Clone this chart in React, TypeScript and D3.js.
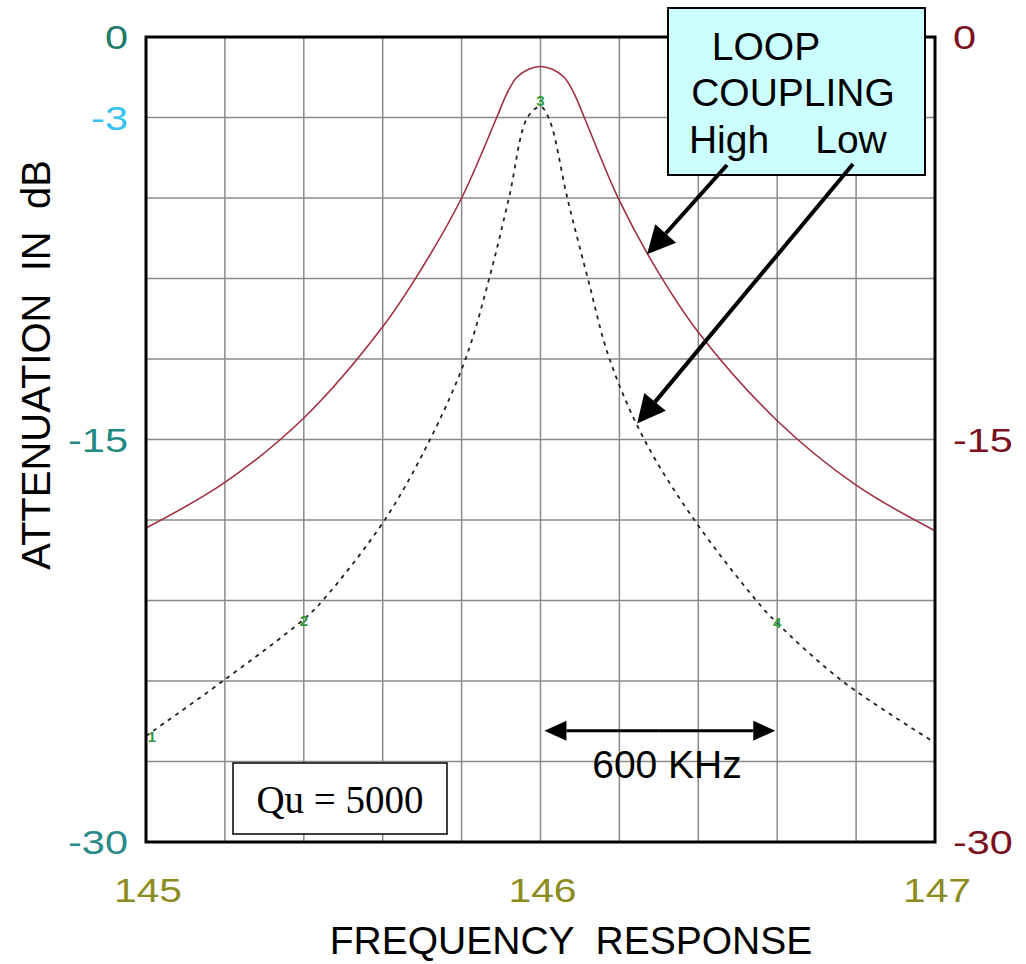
import * as d3 from "d3";
import React from "react";

// (MHz, dB)
const highFreq = [145.0, 145.2, 145.4, 145.6, 145.7, 145.8, 145.889, 145.915, 145.94, 145.97, 146.0, 146.03, 146.06, 146.085, 146.111, 146.2, 146.3, 146.4, 146.6, 146.8, 147.0];
const highDb = [-18.3, -16.6, -14.2, -10.8, -8.6, -6.0, -3.0, -2.1, -1.5, -1.2, -1.1, -1.2, -1.5, -2.1, -3.0, -6.1, -8.8, -11.0, -14.3, -16.7, -18.4];

const lowFreq = [145.0, 145.195, 145.4, 145.448, 145.605, 145.72, 145.81, 145.87, 145.92, 145.967, 146.0, 146.023, 146.068, 146.12, 146.175, 146.263, 146.39, 146.547, 146.597, 146.765, 147.0];
const lowDb = [-26.05, -24.0, -21.7, -21.0, -18.0, -15.0, -12.0, -9.0, -6.0, -3.0, -2.6, -3.1, -6.0, -9.0, -12.0, -15.0, -18.0, -21.0, -21.8, -24.0, -26.3];

// numbered markers on the low coupling trace
const markerLabels = ["1", "2", "3", "4"];
const markerFreq = [145.01, 145.4, 146.0, 146.6];
const markerDb = [-26.1, -21.75, -2.4, -21.85];

const freqTicks = [145, 146, 147];
const leftTicks = [0, -3, -15, -30];
const leftTickColors = ["#1f7a6c", "#35c2f2", "#1f8a80", "#2a8a8a"];
const rightTicks = [0, -15, -30];

const App = () => {
  const ref = React.useRef<SVGSVGElement>(null);

  React.useEffect(() => {
    document.body.style.margin = "0";
    const width = 1026,
      height = 964;
    const margin = { top: 37, right: 91, bottom: 122, left: 146 };
    const svg = d3.select(ref.current);
    svg.selectAll("*").remove();
    svg.attr("width", width).attr("height", height);

    const x = d3.scaleLinear().domain([145, 147]).range([margin.left, width - margin.right]);
    const y = d3.scaleLinear().domain([-30, 0]).range([height - margin.bottom, margin.top]);

    const sans = "'Liberation Sans', Arial, sans-serif";

    // grid every 0.2 MHz and every 3 dB
    const grid = svg.append("g");
    grid
      .selectAll(".vgrid")
      .data(d3.range(1, 10).map((i) => 145 + i * 0.2))
      .enter()
      .append("line")
      .attr("x1", (d) => x(d))
      .attr("x2", (d) => x(d))
      .attr("y1", y(0))
      .attr("y2", y(-30))
      .attr("stroke", "#8a8a8a")
      .attr("stroke-width", 1.5);
    grid
      .selectAll(".hgrid")
      .data(d3.range(1, 10).map((i) => -i * 3))
      .enter()
      .append("line")
      .attr("x1", x(145))
      .attr("x2", x(147))
      .attr("y1", (d) => y(d))
      .attr("y2", (d) => y(d))
      .attr("stroke", "#8a8a8a")
      .attr("stroke-width", 1.5);

    // traces
    const line = d3
      .line<[number, number]>()
      .x((d) => x(d[0]))
      .y((d) => y(d[1]))
      .curve(d3.curveCatmullRom.alpha(0.5));

    svg
      .append("path")
      .attr("d", line(highFreq.map((f, i) => [f, highDb[i]]) as [number, number][]))
      .attr("fill", "none")
      .attr("stroke", "#a03042")
      .attr("stroke-width", 1.6);

    svg
      .append("path")
      .attr("d", line(lowFreq.map((f, i) => [f, lowDb[i]]) as [number, number][]))
      .attr("fill", "none")
      .attr("stroke", "#222")
      .attr("stroke-width", 1.8)
      .attr("stroke-dasharray", "4,5");

    // frame
    svg
      .append("rect")
      .attr("x", x(145))
      .attr("y", y(0))
      .attr("width", x(147) - x(145))
      .attr("height", y(-30) - y(0))
      .attr("fill", "none")
      .attr("stroke", "#000")
      .attr("stroke-width", 3);

    svg
      .selectAll(".marker")
      .data(markerLabels)
      .enter()
      .append("text")
      .attr("x", (d, i) => x(markerFreq[i]) + (i === 0 ? 2 : 0))
      .attr("y", (d, i) => y(markerDb[i]) + 5)
      .attr("text-anchor", "middle")
      .attr("font-family", sans)
      .attr("font-size", 15)
      .attr("font-weight", "bold")
      .attr("fill", "#2e9a3a")
      .text((d) => d);

    // tick labels
    svg
      .selectAll(".lt")
      .data(leftTicks)
      .enter()
      .append("text")
      .attr("transform", (d) => `translate(${x(145) - 18},${y(d) + 12}) scale(1.22,1)`)
      .attr("text-anchor", "end")
      .attr("font-family", sans)
      .attr("font-size", 34)
      .attr("fill", (d, i) => leftTickColors[i])
      .text((d) => d);

    svg
      .selectAll(".rt")
      .data(rightTicks)
      .enter()
      .append("text")
      .attr("transform", (d) => `translate(${x(147) + 18},${y(d) + 12}) scale(1.22,1)`)
      .attr("text-anchor", "start")
      .attr("font-family", sans)
      .attr("font-size", 34)
      .attr("fill", "#7a1020")
      .text((d) => d);

    svg
      .selectAll(".bt")
      .data(freqTicks)
      .enter()
      .append("text")
      .attr("transform", (d) => `translate(${x(d) + 2},${y(-30) + 60}) scale(1.2,1)`)
      .attr("text-anchor", "middle")
      .attr("font-family", sans)
      .attr("font-size", 34)
      .attr("fill", "#8c8c1e")
      .text((d) => d);

    // axis titles
    svg
      .append("text")
      .attr("transform", `translate(50,365) rotate(-90)`)
      .attr("text-anchor", "middle")
      .attr("font-family", sans)
      .attr("font-size", 40)
      .attr("fill", "#000")
      .style("white-space", "pre")
      .text("ATTENUATION  IN  dB");

    svg
      .append("text")
      .attr("x", 571)
      .attr("y", 954)
      .attr("text-anchor", "middle")
      .attr("font-family", sans)
      .attr("font-size", 39)
      .attr("fill", "#000")
      .style("white-space", "pre")
      .text("FREQUENCY  RESPONSE");

    // arrow helper
    const arrow = (x1: number, y1: number, x2: number, y2: number, w: number, len: number, half: number) => {
      const a = Math.atan2(y2 - y1, x2 - x1);
      const bx = x2 - len * Math.cos(a),
        by = y2 - len * Math.sin(a);
      svg
        .append("line")
        .attr("x1", x1)
        .attr("y1", y1)
        .attr("x2", bx)
        .attr("y2", by)
        .attr("stroke", "#000")
        .attr("stroke-width", w);
      const px = -Math.sin(a) * half,
        py = Math.cos(a) * half;
      svg
        .append("path")
        .attr("d", `M${x2},${y2}L${bx + px},${by + py}L${bx - px},${by - py}Z`)
        .attr("fill", "#000");
    };

    // legend box
    svg
      .append("rect")
      .attr("x", 668)
      .attr("y", 8)
      .attr("width", 257)
      .attr("height", 167)
      .attr("fill", "#ccffff")
      .attr("stroke", "#000")
      .attr("stroke-width", 2);
    const legendLines = [
      { t: "LOOP", x: 766, y: 60 },
      { t: "COUPLING", x: 793, y: 106 },
      { t: "High", x: 729, y: 153 },
      { t: "Low", x: 851, y: 153 },
    ];
    svg
      .selectAll(".leg")
      .data(legendLines)
      .enter()
      .append("text")
      .attr("x", (d) => d.x)
      .attr("y", (d) => d.y)
      .attr("text-anchor", "middle")
      .attr("font-family", sans)
      .attr("font-size", 39)
      .attr("fill", "#000")
      .text((d) => d.t);

    arrow(727, 165, x(146.27), y(-8.1), 4, 28, 14);
    arrow(853, 164, x(146.245), y(-14.4), 4, 28, 14);

    // 600 KHz span
    const spanY = y(-25.85);
    arrow(x(146.3), spanY, x(146.01), spanY, 3, 22, 10);
    arrow(x(146.3), spanY, x(146.595), spanY, 3, 22, 10);
    svg
      .append("text")
      .attr("x", 667)
      .attr("y", 778)
      .attr("text-anchor", "middle")
      .attr("font-family", sans)
      .attr("font-size", 39)
      .attr("fill", "#000")
      .text("600 KHz");

    // Qu box
    svg
      .append("rect")
      .attr("x", 233)
      .attr("y", 763)
      .attr("width", 214)
      .attr("height", 71)
      .attr("fill", "#fff")
      .attr("stroke", "#000")
      .attr("stroke-width", 1.5);
    svg
      .append("text")
      .attr("x", 340)
      .attr("y", 813)
      .attr("text-anchor", "middle")
      .attr("font-family", "'Liberation Serif', 'Times New Roman', serif")
      .attr("font-size", 39)
      .attr("fill", "#000")
      .text("Qu = 5000");
  }, []);

  return <svg ref={ref} style={{ display: "block" }} />;
};

export default App;
